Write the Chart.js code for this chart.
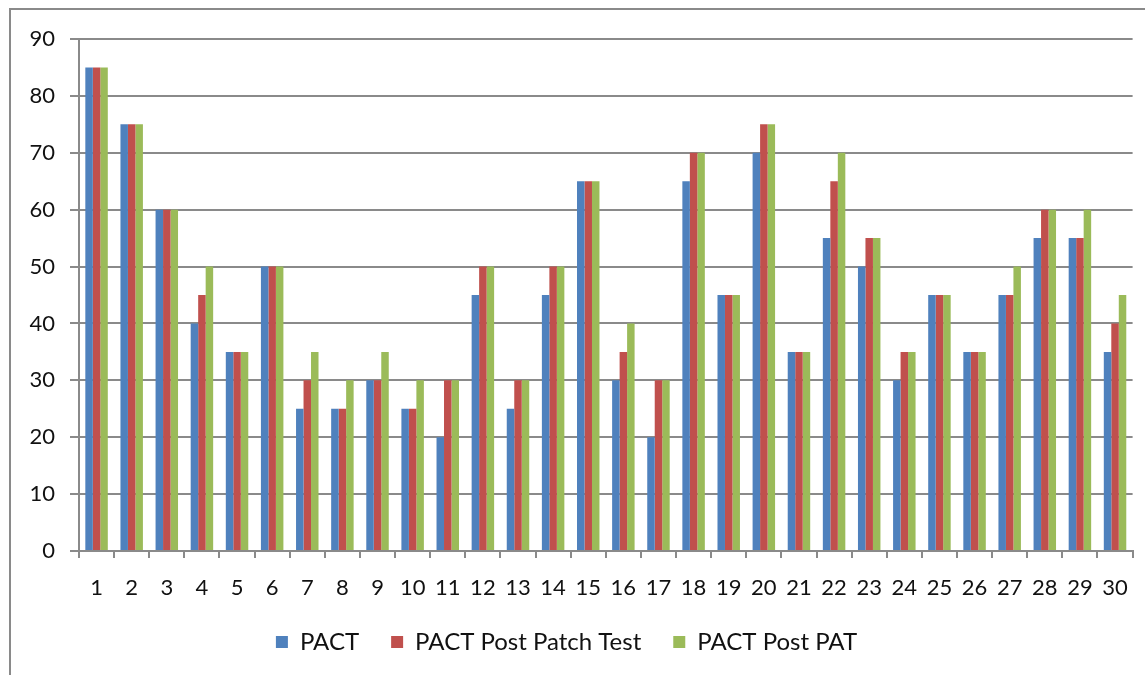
<!DOCTYPE html>
<html>
<head>
<meta charset="utf-8">
<script src="https://cdn.jsdelivr.net/npm/chart.js@4"></script>
<style>
  html, body { margin: 0; padding: 0; background: #fff; }
  #wrap { position: relative; width: 1145px; height: 675px; overflow: hidden; }
  #frame { position: absolute; left: 9px; top: 8px; width: 1200px; height: 700px; border: 2px solid #8a8a8a; box-sizing: border-box; }
  canvas { position: absolute; left: 0; top: 0; }
</style>
</head>
<body>
<div id="wrap">
  <div id="frame"></div>
  <canvas id="c" width="1145" height="700"></canvas>
</div>
<script>
// categories 1..30
var labels = ['1','2','3','4','5','6','7','8','9','10','11','12','13','14','15',
              '16','17','18','19','20','21','22','23','24','25','26','27','28','29','30'];

var pact          = [85,75,60,40,35,50,25,25,30,25,20,45,25,45,65,30,20,65,45,70,35,55,50,30,45,35,45,55,55,35];
var pactPostPatch = [85,75,60,45,35,50,30,25,30,25,30,50,30,50,65,35,30,70,45,75,35,65,55,35,45,35,45,60,55,40];
var pactPostPAT   = [85,75,60,50,35,50,35,30,35,30,30,50,30,50,65,40,30,70,45,75,35,70,55,35,45,35,50,60,60,45];

var seriesNames = ['PACT', 'PACT Post Patch Test', 'PACT Post PAT'];
var yTicks = [0,10,20,30,40,50,60,70,80,90];

var font = 'Lato, "Open Sans", sans-serif';
var gridGray = '#8a8a8a';

new Chart(document.getElementById('c'), {
  type: 'bar',
  data: {
    labels: labels,
    datasets: [
      { label: seriesNames[0], data: pact,          backgroundColor: '#4F81BD' },
      { label: seriesNames[1], data: pactPostPatch, backgroundColor: '#C0504D' },
      { label: seriesNames[2], data: pactPostPAT,   backgroundColor: '#9BBB59' }
    ]
  },
  options: {
    responsive: false,
    animation: false,
    devicePixelRatio: 1,
    datasets: { bar: { categoryPercentage: 0.64, barPercentage: 1.0 } },
    layout: { padding: { left: 0, right: 12, top: 39, bottom: 36 } },
    plugins: {
      tooltip: { enabled: false },
      legend: {
        position: 'bottom',
        labels: {
          font: { family: font, size: 24 },
          color: '#111',
          boxWidth: 12, boxHeight: 12,
          padding: 32
        }
      }
    },
    scales: {
      x: {
        grid: { display: true, drawOnChartArea: false, drawTicks: true, tickLength: 7, color: gridGray, lineWidth: 2, offset: true },
        border: { color: gridGray, width: 2 },
        ticks: { font: { family: font, size: 22 }, color: '#111', padding: 17, maxRotation: 0, autoSkip: false },
        afterFit: function (s) { s.height = 47; }
      },
      y: {
        min: 0, max: 90,
        afterBuildTicks: function (s) { s.ticks = yTicks.map(function (v) { return { value: v }; }); },
        grid: { color: gridGray, lineWidth: 2, tickLength: 9, drawTicks: true },
        border: { color: gridGray, width: 2 },
        ticks: { font: { family: font, size: 22 }, color: '#111', padding: 15 },
        afterFit: function (s) { s.width = 79; }
      }
    }
  }
});
</script>
</body>
</html>
